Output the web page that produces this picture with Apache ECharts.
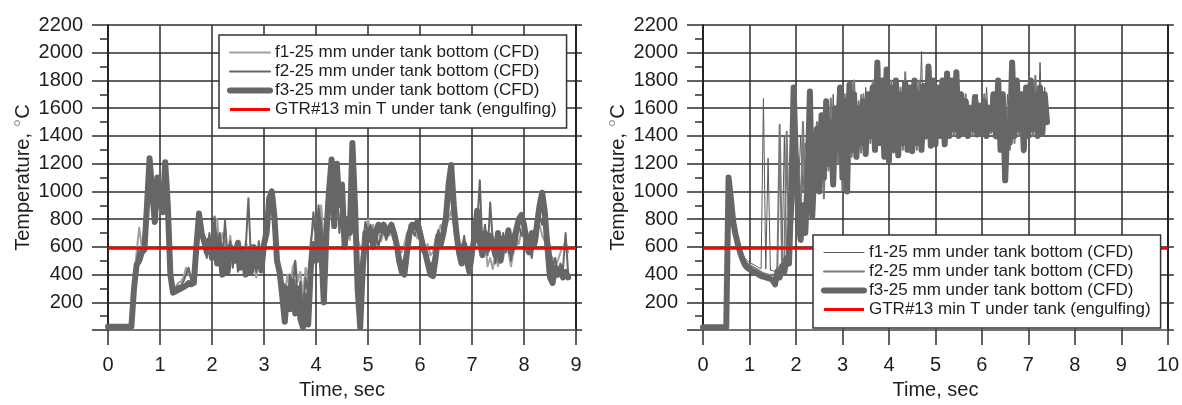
<!DOCTYPE html>
<html><head><meta charset="utf-8">
<script src="https://cdn.jsdelivr.net/npm/echarts@6/dist/echarts.min.js"></script>
<style>html,body{margin:0;padding:0;background:#fff}#c{width:1182px;height:405px}</style>
</head><body><div id="c"></div>
<script>
// ---------------- DATA ----------------
const seriesNames = [
  'f1-25 mm under tank bottom (CFD)',
  'f2-25 mm under tank bottom (CFD)',
  'f3-25 mm under tank bottom (CFD)',
  'GTR#13 min T under tank (engulfing)'
];
const timeStepLeft = 0.05;   // s between samples
const timeStepRight = 0.05;
const gtrMinT = 590;         // degC
const leftTimeMax = 9;
const rightTimeMax = 10;
const tempMax = 2200;
const tempStep = 200;

// Left chart
const leftF1 = [
 25,25,25,25,25,25,25,25,25,25,
 350,560,740,600,700,950,1050,900,1000,1000,
 850,1000,1100,800,450,300,310,340,350,380,
 450,400,380,370,650,760,720,640,580,680,
 640,780,800,560,700,640,500,680,540,620,
 460,600,500,640,560,480,520,380,500,560,
 640,760,900,940,760,600,450,380,250,400,
 280,450,500,350,420,250,450,380,650,750,
 800,700,900,650,800,950,900,850,950,800,
 850,700,760,650,900,800,650,600,560,680,
 800,700,760,660,720,640,700,760,680,700,
 640,580,600,560,620,700,680,740,700,660,
 720,640,580,620,540,560,660,700,760,680,
 740,800,860,760,680,620,600,520,460,420,
 480,600,680,720,560,640,460,520,440,560,
 460,600,520,640,560,460,560,680,620,720,
 660,600,640,560,600,720,760,680,640,560,
 540,520,460,500,560,600,640,560
];
const leftF2 = [
 25,25,25,25,25,25,25,25,25,25,
 320,500,600,580,620,1000,1150,1050,850,1050,
 1100,900,1180,850,420,290,300,320,320,350,
 400,450,360,350,700,800,680,600,520,700,
 560,820,600,700,480,790,520,640,450,600,
 420,560,480,600,950,500,580,420,640,480,
 700,800,980,880,700,450,350,200,330,150,
 400,300,500,200,350,100,380,250,600,850,
 650,900,700,450,900,1100,1000,800,1050,700,
 900,750,650,780,1100,700,500,400,600,780,
 700,760,650,740,600,680,720,650,700,740,
 660,600,540,480,520,640,760,720,680,740,
 650,560,600,520,460,500,600,720,660,740,
 780,900,1000,800,650,580,560,680,520,600,
 520,700,760,1080,600,760,540,920,640,480,
 600,520,700,560,680,500,700,600,760,680,
 720,560,620,520,680,640,820,760,900,700,
 600,460,520,420,480,440,700,400
];
const leftF3 = [
 25,25,25,25,25,25,25,25,25,25,
 300,470,500,560,580,900,1240,1000,780,1100,
 950,850,1210,900,400,270,280,290,300,310,
 320,340,330,340,600,840,700,640,560,650,
 520,700,480,620,400,560,420,600,560,500,
 630,450,580,400,560,420,600,460,560,430,
 620,700,950,1000,820,500,420,250,60,300,
 150,350,120,300,80,20,250,40,450,620,
 500,800,600,200,700,1000,1230,750,1200,900,
 1050,600,800,700,1350,900,300,20,450,700,
 650,720,600,700,760,720,760,700,720,760,
 700,620,500,420,400,560,700,760,740,780,
 700,620,560,480,400,390,520,680,620,700,
 820,1050,1190,900,700,560,480,620,500,420,
 560,680,860,640,540,700,580,680,620,540,
 700,500,660,600,720,560,640,720,800,830,
 760,640,560,700,620,760,900,990,850,600,
 380,340,450,400,440,380,420,380
];

// Right chart
const rightF1 = [
 20,20,20,20,20,20,20,20,20,20,
 20,1050,900,740,660,610,580,550,520,500,
 490,480,470,460,450,445,1670,440,1240,430,
 430,420,460,440,500,1400,520,560,640,900,
 1300,950,1400,1000,1350,1200,1550,1100,1400,1250,
 1500,1000,1450,1250,1600,1150,1700,1300,1750,1200,
 1600,1250,1700,1350,1800,1300,1650,1400,1700,1300,
 1750,1350,1650,1400,1800,1300,1700,1380,1800,1350,
 1700,1400,1750,1350,1700,1300,1800,1350,1650,1400,
 1780,1350,1750,1400,2010,1350,1800,1400,1870,1380,
 1800,1400,1750,1450,1800,1400,1850,1450,1750,1420,
 1650,1450,1700,1400,1650,1450,1620,1420,1700,1450,
 1600,1450,1750,1420,1700,1450,1650,1400,1700,1450,
 1350,1700,1400,1800,1450,1750,1400,1700,1350,1650,
 1500,1700,1450,1840,1400,1930,1450,1750,1480
];
const rightF2 = [
 20,20,20,20,20,20,20,20,20,20,
 20,1080,920,720,640,600,560,530,500,480,
 470,460,450,440,430,420,410,405,400,395,
 400,390,450,1480,480,520,1430,560,700,1400,
 1000,1250,800,1500,900,1300,1100,1450,950,1500,
 1050,1400,950,1600,1150,1670,1050,1500,1200,1600,
 1000,1700,1150,1600,1250,1800,1300,1650,1280,1700,
 1300,1650,1350,1800,1320,1700,1400,1750,1300,1700,
 1350,1800,1280,1700,1400,1750,1300,1860,1350,1700,
 1400,1750,1300,1800,1350,1700,1380,1850,1400,1750,
 1380,1700,1420,1780,1350,1800,1450,1760,1400,1750,
 1450,1650,1400,1700,1420,1620,1400,1650,1450,1600,
 1400,1700,1450,1620,1420,1680,1380,1750,1350,1650,
 1400,1600,1300,1800,1350,1750,1400,1650,1280,1700,
 1450,1750,1400,1830,1450,1720,1400,1680,1520
];
const rightF3 = [
 20,20,20,20,20,20,20,20,20,20,
 20,1100,950,780,690,620,560,510,470,450,
 440,425,420,410,400,390,385,380,375,370,
 360,330,420,380,460,420,520,480,1000,1750,
 1200,800,650,900,700,1100,1720,820,1200,1450,
 1000,1550,1100,1650,1200,1500,1050,1600,1300,1750,
 1100,1650,1000,1770,1300,1700,1250,1600,1350,1650,
 1270,1700,1400,1750,1300,1930,1350,1800,1250,1880,
 1220,1750,1300,1800,1260,1700,1350,1780,1300,1750,
 1290,1800,1350,1700,1300,1760,1400,1900,1330,1800,
 1340,1750,1400,1800,1340,1850,1400,1800,1450,1860,
 1400,1700,1420,1650,1400,1600,1450,1680,1410,1620,
 1420,1650,1400,1600,1450,1700,1400,1800,1300,1700,
 1080,1500,1350,1930,1400,1800,1450,1700,1300,1750,
 1400,1800,1450,1700,1400,1750,1420,1700,1500
];

// ---------------- CHART ----------------
const FONT = '"Liberation Sans", Arial, sans-serif';
const GRID_COLOR = '#2e2e2e';
const TEXT_COLOR = '#1e1e1e';

function toPairs(vals, step) {
  return vals.map((v, i) => [Math.round(i * step * 100) / 100, v]);
}

function xAxisFor(gridIndex, maxT) {
  return {
    type: 'value', gridIndex, min: 0, max: maxT, interval: 1,
    name: 'Time, sec', nameLocation: 'middle', nameGap: 48,
    nameTextStyle: { fontFamily: FONT, fontSize: 20, color: TEXT_COLOR },
    axisLine: { show: true, onZero: false, lineStyle: { color: '#7a7a7a', width: 1.5 } },
    axisTick: { show: true, inside: false, length: 15, lineStyle: { color: GRID_COLOR, width: 1.5 } },
    axisLabel: { margin: 25, fontFamily: FONT, fontSize: 20, color: TEXT_COLOR },
    splitLine: { show: true, lineStyle: { color: GRID_COLOR, width: 1.5 } }
  };
}
function yAxesFor(gridIndex) {
  return [{
    type: 'value', gridIndex, min: 0, max: tempMax, interval: tempStep, position: 'left',
    name: 'Temperature, {deg|°}C', nameLocation: 'middle', nameGap: 74,
    nameTextStyle: { fontFamily: FONT, fontSize: 20, color: TEXT_COLOR,
      rich: { deg: { fontFamily: FONT, fontSize: 22, lineHeight: 20, color: '#999999' } } },
    axisLine: { show: true, lineStyle: { color: '#111', width: 1.5 } },
    axisTick: { show: true, inside: false, length: 16, lineStyle: { color: GRID_COLOR, width: 1.5 } },
    minorTick: { show: true, splitNumber: 2, length: 8, lineStyle: { color: GRID_COLOR, width: 1.5 } },
    axisLabel: { margin: 25, fontFamily: FONT, fontSize: 20, color: TEXT_COLOR,
      formatter: v => (v === 0 ? '' : String(v)) },
    splitLine: { show: true, lineStyle: { color: GRID_COLOR, width: 1.5 } }
  }, {
    type: 'value', gridIndex, min: 0, max: tempMax, interval: tempStep, position: 'right',
    axisLine: { show: true, lineStyle: { color: '#111', width: 1.5 } },
    axisTick: { show: true, inside: false, length: 6, lineStyle: { color: GRID_COLOR, width: 1.5 } },
    axisLabel: { show: false },
    splitLine: { show: false }
  }];
}
function lineSeries(name, vals, step, axisIdx, color, width) {
  return {
    type: 'line', name, data: toPairs(vals, step),
    xAxisIndex: axisIdx, yAxisIndex: axisIdx * 2,
    showSymbol: false, symbol: 'none', animation: false,
    lineStyle: { color, width, join: 'round', cap: 'round' },
    itemStyle: { color }
  };
}
function gtrSeries(axisIdx, maxT) {
  return {
    type: 'line', name: seriesNames[3], data: [[0, gtrMinT], [maxT, gtrMinT]],
    xAxisIndex: axisIdx, yAxisIndex: axisIdx * 2,
    showSymbol: false, symbol: 'none', animation: false,
    lineStyle: { color: '#ff0000', width: 3 }, itemStyle: { color: '#ff0000' }
  };
}
function legendFor(left, top, styles) {
  return {
    left, top, orient: 'vertical', itemWidth: 40, itemHeight: 14, itemGap: 0,
    padding: [8, 10, 9, 8], backgroundColor: '#fff', borderColor: '#333', borderWidth: 1.5,
    selectedMode: false, z: 10,
    textStyle: { fontFamily: FONT, fontSize: 17, color: TEXT_COLOR, lineHeight: 19 },
    itemStyle: { color: 'rgba(0,0,0,0)', borderWidth: 0 },
    data: seriesNames.map((n, i) => ({
      name: n,
      lineStyle: { color: styles[i][0], width: styles[i][1] },
      itemStyle: { color: 'rgba(0,0,0,0)', borderWidth: 0 }
    }))
  };
}

const leftStyles = [['#a0a0a0', 2], ['#666666', 2], ['#666666', 6], ['#ff0000', 3]];
const rightStyles = [['#5a5a5a', 1], ['#7a7a7a', 2], ['#666666', 6], ['#ff0000', 3]];

const option = {
  backgroundColor: '#fff',
  animation: false,
  grid: [
    { left: 108, top: 25, width: 468, height: 311 },
    { left: 703, top: 25, width: 466, height: 311 }
  ],
  xAxis: [xAxisFor(0, leftTimeMax), xAxisFor(1, rightTimeMax)],
  yAxis: [...yAxesFor(0), ...yAxesFor(1)],
  legend: [legendFor(219, 35, leftStyles), legendFor(813, 235, rightStyles)],
  series: [
    lineSeries(seriesNames[0], leftF1, timeStepLeft, 0, leftStyles[0][0], leftStyles[0][1]),
    lineSeries(seriesNames[1], leftF2, timeStepLeft, 0, leftStyles[1][0], leftStyles[1][1]),
    lineSeries(seriesNames[2], leftF3, timeStepLeft, 0, leftStyles[2][0], leftStyles[2][1]),
    gtrSeries(0, leftTimeMax),
    lineSeries(seriesNames[0], rightF1, timeStepRight, 1, rightStyles[0][0], rightStyles[0][1]),
    lineSeries(seriesNames[1], rightF2, timeStepRight, 1, rightStyles[1][0], rightStyles[1][1]),
    lineSeries(seriesNames[2], rightF3, timeStepRight, 1, rightStyles[2][0], rightStyles[2][1]),
    gtrSeries(1, rightTimeMax)
  ]
};
const chart = echarts.init(document.getElementById('c'), null, { renderer: 'canvas' });
chart.setOption(option);
</script>
</body></html>
